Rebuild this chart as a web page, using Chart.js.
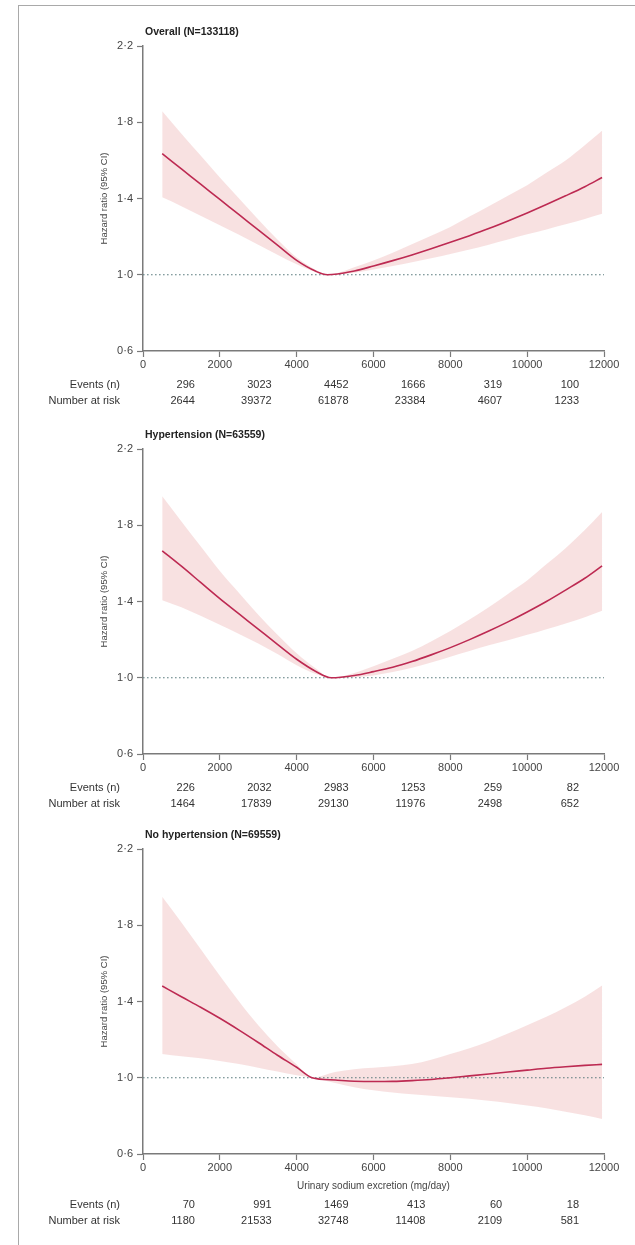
<!DOCTYPE html>
<html>
<head>
<meta charset="utf-8">
<script src="https://cdn.jsdelivr.net/npm/chart.js@4.4.1/dist/chart.umd.min.js"></script>
<style>
  body { margin: 0; background: #fff; }
  #page { position: relative; width: 635px; height: 1245px; overflow: hidden; }
  #frame { position: absolute; left: 18px; top: 5px; right: -2px; bottom: -2px;
           border-left: 1.5px solid #a9a9a9; border-top: 1.5px solid #a9a9a9; }
  canvas { position: absolute; left: 0; }
</style>
</head>
<body>
<div id="page">
  <div id="frame"></div>
  <canvas id="chartOne" width="635" height="440" style="top:0px"></canvas>
  <canvas id="chartTwo" width="635" height="440" style="top:403px"></canvas>
  <canvas id="chartThree" width="635" height="440" style="top:803px"></canvas>
</div>
<script>
// axis ticks
const xTicks = [0, 2000, 4000, 6000, 8000, 10000, 12000];
const xTickLabels = ["0", "2000", "4000", "6000", "8000", "10000", "12000"];
const yTicks = [0.6, 1.0, 1.4, 1.8, 2.2];
const yTickLabels = ["0·6", "1·0", "1·4", "1·8", "2·2"];
// middle of each sodium interval used for the table under each panel
const intervalMids = [1000, 3000, 5000, 7000, 9000, 11000];

// Overall
const overallX = [500, 1000, 1500, 2000, 2500, 3000, 3500, 4000, 4500, 4800, 5500, 6000, 6500, 7000, 7500, 8000, 8500, 9000, 9500, 10000, 10500, 11000, 11500, 11950];
const overallHR = [1.635, 1.555, 1.475, 1.395, 1.315, 1.235, 1.155, 1.075, 1.018, 1.0, 1.02, 1.046, 1.074, 1.104, 1.136, 1.17, 1.205, 1.242, 1.282, 1.324, 1.368, 1.414, 1.462, 1.51];
const overallHi = [1.858, 1.74, 1.625, 1.51, 1.40, 1.29, 1.185, 1.09, 1.025, 1.0, 1.04, 1.075, 1.115, 1.16, 1.205, 1.25, 1.305, 1.36, 1.415, 1.47, 1.535, 1.60, 1.68, 1.755];
const overallLo = [1.406, 1.36, 1.31, 1.26, 1.21, 1.158, 1.105, 1.055, 1.014, 1.0, 1.01, 1.027, 1.046, 1.066, 1.087, 1.109, 1.133, 1.158, 1.185, 1.212, 1.238, 1.265, 1.293, 1.32];
const overallEvents = ["296", "3023", "4452", "1666", "319", "100"];
const overallRisk = ["2644", "39372", "61878", "23384", "4607", "1233"];

// Hypertension
const htnX = [500, 1000, 1500, 2000, 2500, 3000, 3500, 4000, 4500, 4900, 5500, 6000, 6500, 7000, 7500, 8000, 8500, 9000, 9500, 10000, 10500, 11000, 11500, 11950];
const htnHR = [1.666, 1.585, 1.50, 1.415, 1.335, 1.255, 1.175, 1.097, 1.033, 1.0, 1.012, 1.032, 1.055, 1.085, 1.12, 1.158, 1.20, 1.245, 1.293, 1.345, 1.40, 1.46, 1.522, 1.587];
const htnHi = [1.952, 1.82, 1.69, 1.56, 1.445, 1.33, 1.225, 1.128, 1.048, 1.0, 1.025, 1.06, 1.10, 1.14, 1.19, 1.245, 1.305, 1.37, 1.44, 1.51, 1.595, 1.68, 1.775, 1.87];
const htnLo = [1.407, 1.37, 1.325, 1.278, 1.23, 1.18, 1.125, 1.066, 1.02, 1.0, 1.003, 1.012, 1.03, 1.052, 1.08, 1.11, 1.14, 1.17, 1.197, 1.225, 1.255, 1.285, 1.318, 1.351];
const htnEvents = ["226", "2032", "2983", "1253", "259", "82"];
const htnRisk = ["1464", "17839", "29130", "11976", "2498", "652"];

// No hypertension
const noHtnX = [500, 1000, 1500, 2000, 2500, 3000, 3500, 4000, 4400, 5000, 5500, 6000, 6500, 7000, 7500, 8000, 8500, 9000, 9500, 10000, 10500, 11000, 11500, 11950];
const noHtnHR = [1.481, 1.425, 1.37, 1.312, 1.25, 1.185, 1.118, 1.055, 1.0, 0.988, 0.982, 0.98, 0.981, 0.985, 0.991, 1.0, 1.01, 1.02, 1.03, 1.04, 1.05, 1.058, 1.065, 1.07];
const noHtnHi = [1.949, 1.815, 1.675, 1.535, 1.40, 1.275, 1.165, 1.07, 1.0, 1.03, 1.045, 1.052, 1.06, 1.072, 1.095, 1.125, 1.155, 1.19, 1.232, 1.275, 1.32, 1.37, 1.425, 1.484];
const noHtnLo = [1.125, 1.113, 1.102, 1.088, 1.072, 1.053, 1.033, 1.013, 1.0, 0.972, 0.95, 0.934, 0.922, 0.913, 0.905, 0.898, 0.89, 0.88, 0.868, 0.855, 0.84, 0.822, 0.803, 0.783];
const noHtnEvents = ["70", "991", "1469", "413", "60", "18"];
const noHtnRisk = ["1180", "21533", "32748", "11408", "2109", "581"];

const FONT = "'Liberation Sans', Arial, sans-serif";
const CURVE = "#bd2a52";
const BAND = "rgba(242, 196, 196, 0.5)";
const AXIS = "#7a7a7a";

// titles, y label, x label and the events / number at risk rows
const panelText = {
  id: "panelText",
  afterDraw(chart, args, opts) {
    const ctx = chart.ctx;
    const a = chart.chartArea;
    const x = chart.scales.x;
    ctx.save();
    ctx.fillStyle = "#222";
    ctx.textBaseline = "middle";
    ctx.textAlign = "left";
    ctx.font = "bold 10.5px " + FONT;
    ctx.fillText(opts.title, a.left + 2, a.top - 14);

    ctx.fillStyle = "#444";
    ctx.font = "9.5px " + FONT;
    ctx.save();
    ctx.translate(104, (a.top + a.bottom) / 2);
    ctx.rotate(-Math.PI / 2);
    ctx.textAlign = "center";
    ctx.fillText("Hazard ratio (95% CI)", 0, 0);
    ctx.restore();

    let rowY = a.bottom + 34;
    if (opts.xTitle) {
      ctx.textAlign = "center";
      ctx.font = "10px " + FONT;
      ctx.fillText(opts.xTitle, (a.left + a.right) / 2, a.bottom + 32);
      rowY = a.bottom + 51;
    }
    ctx.fillStyle = "#333";
    ctx.font = "11px " + FONT;
    ctx.textAlign = "right";
    ctx.fillText("Events (n)", 120, rowY);
    ctx.fillText("Number at risk", 120, rowY + 16);
    intervalMids.forEach((m, i) => {
      const px = x.getPixelForValue(m + 350);
      ctx.fillText(opts.events[i], px, rowY);
      ctx.fillText(opts.risk[i], px, rowY + 16);
    });
    ctx.restore();
  },
};

function makePanel(id, title, xs, hr, lo, hi, events, risk, xTitle) {
  const pts = (ys) => xs.map((v, i) => ({ x: v, y: ys[i] }));
  new Chart(document.getElementById(id), {
    type: "line",
    data: {
      datasets: [
        {
          data: pts(hr),
          borderColor: CURVE,
          borderWidth: 1.6,
          pointRadius: 0,
          cubicInterpolationMode: "monotone",
          fill: false,
          order: 0,
        },
        {
          data: [{ x: 0, y: 1 }, { x: 12000, y: 1 }],
          borderColor: "#5d7e80",
          borderWidth: 1.2,
          borderDash: [1.6, 2.4],
          pointRadius: 0,
          fill: false,
          order: 1,
        },
        {
          data: pts(hi),
          borderColor: "rgba(0,0,0,0)",
          pointRadius: 0,
          cubicInterpolationMode: "monotone",
          fill: false,
          order: 2,
        },
        {
          data: pts(lo),
          borderColor: "rgba(0,0,0,0)",
          backgroundColor: BAND,
          pointRadius: 0,
          cubicInterpolationMode: "monotone",
          fill: "-1",
          order: 3,
        },
      ],
    },
    options: {
      responsive: false,
      animation: false,
      layout: { padding: { left: 83, right: 31, top: 46, bottom: 69 } },
      plugins: {
        legend: { display: false },
        tooltip: { enabled: false },
        panelText: { title: title, events: events, risk: risk, xTitle: xTitle },
      },
      scales: {
        x: {
          type: "linear",
          min: 0,
          max: 12000,
          afterBuildTicks: (s) => { s.ticks = xTicks.map((v) => ({ value: v })); },
          afterFit: (s) => { s.height = 20; },
          ticks: {
            callback: (v) => xTickLabels[xTicks.indexOf(v)],
            color: "#444",
            font: { family: FONT, size: 11 },
            padding: 1,
            maxRotation: 0,
            autoSkip: false,
          },
          grid: { drawOnChartArea: false, drawTicks: true, tickLength: 6, tickColor: AXIS, tickWidth: 1.2 },
          border: { color: AXIS, width: 1.5 },
        },
        y: {
          min: 0.6,
          max: 2.2,
          afterBuildTicks: (s) => { s.ticks = yTicks.map((v) => ({ value: v })); },
          afterFit: (s) => { s.width = 60; },
          ticks: {
            callback: (v) => yTickLabels[yTicks.indexOf(v)],
            color: "#444",
            font: { family: FONT, size: 11 },
            padding: 4,
          },
          grid: { drawOnChartArea: false, drawTicks: true, tickLength: 6, tickColor: AXIS, tickWidth: 1.2 },
          border: { color: AXIS, width: 1.5 },
        },
      },
    },
    plugins: [panelText],
  });
}

makePanel("chartOne", "Overall (N=133118)", overallX, overallHR, overallLo, overallHi, overallEvents, overallRisk, null);
makePanel("chartTwo", "Hypertension (N=63559)", htnX, htnHR, htnLo, htnHi, htnEvents, htnRisk, null);
makePanel("chartThree", "No hypertension (N=69559)", noHtnX, noHtnHR, noHtnLo, noHtnHi, noHtnEvents, noHtnRisk, "Urinary sodium excretion (mg/day)");
</script>
</body>
</html>
